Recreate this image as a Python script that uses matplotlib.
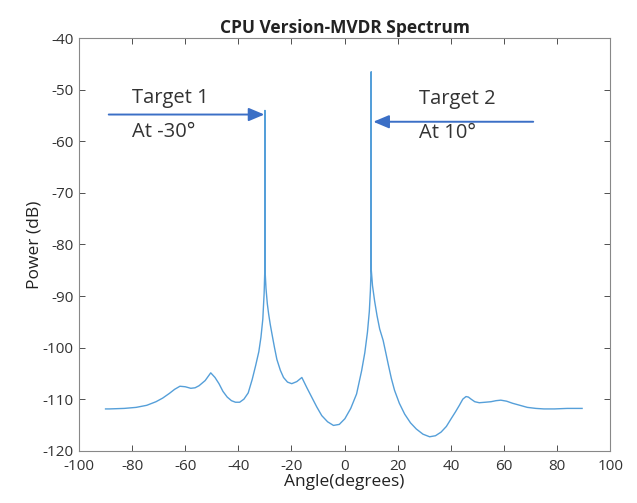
import numpy as np
import matplotlib.pyplot as plt

plt.rcParams['font.family'] = ['Open Sans', 'DejaVu Sans']
plt.rcParams['axes.unicode_minus'] = False

# MVDR spectrum (angle in degrees, power in dB)
angle = [-90, -88.5, -83, -78.5, -74.5, -71, -68.5, -66, -64, -62, -60,
         -57.9, -56.3, -54.8, -52.5, -50.4, -48.8, -47.3, -45.8, -44.2, -42.6,
         -41.1, -39.5, -37.9, -36.3, -34.8, -33.5, -32.3, -31.5, -30.8, -30.3,
         -30.05, -30, -29.95, -29.6, -29.1, -28.6, -28, -27.3, -26.4, -25.5,
         -24.2, -23, -21.5, -19.9, -18, -16.1, -14.2, -12.4, -10.5, -8.6,
         -6.4, -4.2, -2, 0.1, 2.3, 4.5, 6.4, 7.6, 8.6, 9.3, 9.7, 9.95, 10,
         10.05, 10.5, 11.3, 12.2, 13.2, 14.5, 15.5, 16.4, 17.6, 18.8, 20.6,
         22.6, 24.8, 27, 29.5, 32, 34.2, 36.3, 38.3, 40.1, 41.7, 43.2, 44.5,
         45.7, 46.6, 47.6, 49, 50.7, 53, 55.1, 57, 58.8, 61, 63.2, 66,
         68.8, 72, 75, 79, 83.8, 89.4]
power = [-111.9, -111.9, -111.8, -111.6, -111.2, -110.5, -109.8, -108.9,
         -108.1, -107.5, -107.6, -107.9, -107.8, -107.4, -106.4, -104.9,
         -105.8, -107.0, -108.5, -109.6, -110.3, -110.6, -110.6, -110.0,
         -108.8, -106.2, -103.5, -100.8, -98.0, -94.5, -89.5, -85.0, -54.0,
         -85.0, -88.5, -91.5, -93.5, -95.5, -97.5, -100.0, -102.3, -104.4,
         -105.8, -106.7, -107.0, -106.6, -105.8, -107.8, -109.6, -111.5,
         -113.2, -114.4, -115.1, -114.9, -113.8, -111.8, -109.0, -104.5,
         -101.0, -97.0, -93.0, -89.0, -85.0, -46.5, -85.0, -88.0, -91.0,
         -93.8, -96.4, -98.6, -101.0, -103.2, -106.0, -108.3, -110.8,
         -112.9, -114.6, -115.8, -116.8, -117.3, -117.1, -116.4, -115.3,
         -113.8, -112.5, -111.2, -110.0, -109.5, -109.6, -110.0, -110.5,
         -110.7, -110.6, -110.5, -110.3, -110.2, -110.4, -110.8, -111.2,
         -111.6, -111.8, -111.9, -111.9, -111.8, -111.8]

xticks = list(range(-100, 101, 20))
yticks = list(range(-120, -39, 10))

fig = plt.figure(figsize=(6.37, 5.03), dpi=100)
ax = fig.add_axes([0.124, 0.104, 0.834, 0.82])
ax.plot(angle, power, color='#559fd9', linewidth=1.0)

ax.set_xlim(-100, 100)
ax.set_ylim(-120, -40)
ax.set_xticks(xticks)
ax.set_yticks(yticks)
ax.tick_params(direction='in', top=True, right=True, length=4,
               labelsize=11, colors='#333333', width=0.6)
ax.tick_params(axis='x', pad=6)
ax.tick_params(axis='y', pad=4)
for s in ax.spines.values():
    s.set_color('#888888')
    s.set_linewidth(0.8)

ax.set_title("CPU Version-MVDR Spectrum", fontsize=12.5, fontweight='bold',
             color='#222222', pad=4)
ax.set_xlabel("Angle(degrees)", fontsize=12.5, color='#222222', labelpad=0)
ax.set_ylabel("Power (dB)", fontsize=12.5, color='#222222', labelpad=0)

# annotations
arrow_kw = dict(arrowstyle='-|>,head_length=0.95,head_width=0.4',
                color='#3b6fc6', lw=1.4, shrinkA=0, shrinkB=0)
ax.annotate('', xy=(-30.2, -54.8), xytext=(-88.8, -54.8), arrowprops=arrow_kw)
ax.annotate('', xy=(10.8, -56.2), xytext=(71, -56.2), arrowprops=arrow_kw)
tkw = dict(fontsize=14.5, va='center', color='#333333')
ax.text(-80.2, -51.5, "Target 1", **tkw)
ax.text(-80.2, -58.1, "At -30°", **tkw)
ax.text(28, -51.8, "Target 2", **tkw)
ax.text(28, -58.3, "At 10°", **tkw)

fig.savefig("out.png", dpi=100)
